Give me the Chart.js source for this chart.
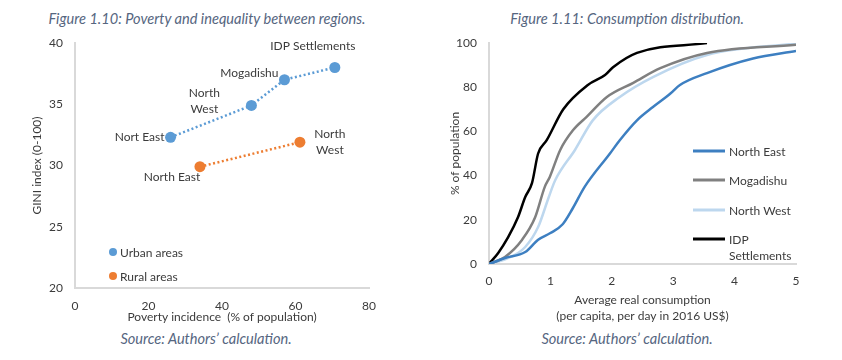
<!DOCTYPE html>
<html>
<head>
<meta charset="utf-8">
<script src="https://cdn.jsdelivr.net/npm/chart.js@4.4.1/dist/chart.umd.min.js"></script>
<style>
  body { margin: 0; background: #fff; font-family: Lato, "Open Sans", sans-serif; }
  #wrap { position: relative; width: 842px; height: 360px; }
  .box { position: absolute; top: 0; width: 421px; height: 360px; }
  .cap { position: absolute; font-style: italic; color: #56667f; font-size: 14.6px;
         white-space: nowrap; transform: translate(-50%, -50%); }
</style>
</head>
<body>
<div id="wrap">
  <div class="cap" style="left:207px; top:18px">Figure 1.10: Poverty and inequality between regions.</div>
  <div class="cap" style="left:627px; top:18px">Figure 1.11: Consumption distribution.</div>
  <div class="cap" style="left:206px; top:338px">Source: Authors’ calculation.</div>
  <div class="cap" style="left:627px; top:338px">Source: Authors’ calculation.</div>
  <div class="box" style="left:0"><canvas id="gini"></canvas></div>
  <div class="box" style="left:421px"><canvas id="cons"></canvas></div>
</div>
<script>
// Figure 1.10 data
const urbanRegions = ["Nort East", "North West", "Mogadishu", "IDP Settlements"];
const urbanPoverty = [26, 48, 57, 70.7];
const urbanGini = [32.3, 34.9, 37.0, 38.0];
const ruralRegions = ["North East", "North West"];
const ruralPoverty = [34, 61.2];
const ruralGini = [29.9, 31.9];

// Figure 1.11 data (cumulative share of population by consumption)
const neCons = [0, 0.26, 0.59, 0.8, 1.0, 1.2, 1.36, 1.56, 1.97, 2.13, 2.41, 2.67, 2.95, 3.11, 3.55, 4.3, 5.0];
const nePct = [0, 2.7, 5.4, 11, 14, 18, 25, 35, 50, 56, 65, 71, 77, 81, 86.4, 93, 96.4];
const mogCons = [0, 0.26, 0.54, 0.75, 0.91, 0.99, 1.16, 1.37, 1.59, 1.92, 2.35, 2.79, 3.55, 5.0];
const mogPct = [0, 3.2, 11, 21, 35, 39.4, 51.6, 60.6, 66.6, 75.6, 82, 88.6, 95.5, 99.2];
const nwCons = [0, 0.3, 0.59, 0.8, 0.97, 1.08, 1.4, 1.69, 2.13, 2.67, 3.55, 5.0];
const nwPct = [0, 2.5, 7.7, 16.7, 30, 38, 51.6, 65, 75.6, 84.6, 94.6, 99.8];
const idpCons = [0, 0.15, 0.31, 0.47, 0.59, 0.7, 0.8, 0.94, 1.21, 1.61, 1.89, 2.02, 2.41, 3.55];
const idpPct = [0, 5, 12, 21, 30.3, 36.6, 50, 56, 70, 81, 85.5, 89, 95.5, 100];

const TEXT = "#3b3b3b";
const AXIS = "#d9d9d9";
Chart.defaults.font.family = 'Lato, "Open Sans", sans-serif';
Chart.defaults.font.size = 12;
Chart.defaults.color = TEXT;

const toXY = (xs, ys) => xs.map((x, i) => ({ x, y: ys[i] }));

// label placement for each point in figure 1.10
const urbanLabelPos = [
  { dx: -6, dy: 0, align: "right", wrap: false },
  { dx: -47, dy: -12, align: "center", wrap: true },
  { dx: -6, dy: -7, align: "right", wrap: false },
  { dx: -22, dy: -21, align: "center", wrap: false },
];
const ruralLabelPos = [
  { dx: -28, dy: 10, align: "center", wrap: false },
  { dx: 30, dy: -8, align: "center", wrap: true },
];

const pointLabels = {
  id: "pointLabels",
  afterDatasetsDraw(chart) {
    const ctx = chart.ctx;
    ctx.save();
    ctx.font = "12px " + Chart.defaults.font.family;
    ctx.fillStyle = TEXT;
    ctx.textBaseline = "middle";
    chart.data.datasets.forEach((ds, di) => {
      chart.getDatasetMeta(di).data.forEach((pt, i) => {
        const pos = ds.labelPos[i];
        const lines = pos.wrap ? ds.names[i].split(" ") : [ds.names[i]];
        ctx.textAlign = pos.align;
        lines.forEach((line, k) => ctx.fillText(line, pt.x + pos.dx, pt.y + pos.dy + k * 16));
      });
    });
    ctx.restore();
  },
};

const dotLegend = {
  id: "dotLegend",
  afterDraw(chart) {
    const { ctx, chartArea } = chart;
    ctx.save();
    ctx.font = "12px " + Chart.defaults.font.family;
    ctx.textBaseline = "middle";
    ctx.textAlign = "left";
    chart.data.datasets.forEach((ds, i) => {
      const x = chartArea.left + 38;
      const y = chartArea.bottom - 36 + i * 24;
      ctx.fillStyle = ds.backgroundColor;
      ctx.beginPath();
      ctx.arc(x, y, 4, 0, Math.PI * 2);
      ctx.fill();
      ctx.fillStyle = TEXT;
      ctx.fillText(ds.label, x + 7, y + 1);
    });
    ctx.restore();
  },
};

const lineLegend = {
  id: "lineLegend",
  afterDraw(chart) {
    const { ctx, chartArea } = chart;
    const rows = [151, 180, 210, 239];
    ctx.save();
    ctx.font = "12px " + Chart.defaults.font.family;
    ctx.textBaseline = "middle";
    ctx.textAlign = "left";
    chart.data.datasets.forEach((ds, i) => {
      const x = chartArea.left + 204;
      const y = rows[i];
      ctx.strokeStyle = ds.borderColor;
      ctx.lineWidth = 3;
      ctx.beginPath();
      ctx.moveTo(x, y);
      ctx.lineTo(x + 32, y);
      ctx.stroke();
      ctx.fillStyle = TEXT;
      const parts = ds.label.split("|");
      parts.forEach((p, k) => ctx.fillText(p, x + 36, y + 1 + k * 16));
    });
    ctx.restore();
  },
};

const axisBase = {
  grid: { display: false, drawTicks: false },
  border: { display: true, color: AXIS, width: 2 },
};

new Chart(document.getElementById("gini"), {
  type: "scatter",
  data: {
    datasets: [
      {
        label: "Urban areas",
        data: toXY(urbanPoverty, urbanGini),
        names: urbanRegions,
        labelPos: urbanLabelPos,
        backgroundColor: "#5b9bd5",
        borderColor: "#5b9bd5",
        pointRadius: 5.5,
        pointBorderWidth: 0,
        showLine: true,
        borderWidth: 2.5,
        borderDash: [2, 2.5],
      },
      {
        label: "Rural areas",
        data: toXY(ruralPoverty, ruralGini),
        names: ruralRegions,
        labelPos: ruralLabelPos,
        backgroundColor: "#ed7d31",
        borderColor: "#ed7d31",
        pointRadius: 5.5,
        pointBorderWidth: 0,
        showLine: true,
        borderWidth: 2.5,
        borderDash: [2, 2.5],
      },
    ],
  },
  options: {
    responsive: true,
    maintainAspectRatio: false,
    animation: false,
    layout: { padding: { top: 43, right: 52, bottom: 36, left: 30 } },
    plugins: { legend: { display: false }, tooltip: { enabled: false } },
    scales: {
      x: {
        ...axisBase,
        min: 0, max: 80,
        ticks: { stepSize: 20, padding: 11 },
        title: { display: true, text: "Poverty incidence  (% of population)", padding: { top: 4, bottom: 0 } },
        afterFit(s) { s.height = 36; },
      },
      y: {
        ...axisBase,
        min: 20, max: 40,
        ticks: { stepSize: 5, padding: 12 },
        title: { display: true, text: "GINI index (0-100)", padding: { top: 0, bottom: 0 } },
        afterFit(s) { s.width = 45; },
      },
    },
  },
  plugins: [pointLabels, dotLegend],
});

const curve = (label, xs, ys, color) => ({
  label,
  data: toXY(xs, ys),
  borderColor: color,
  backgroundColor: color,
  borderWidth: 2.5,
  pointRadius: 0,
  cubicInterpolationMode: "monotone",
});

new Chart(document.getElementById("cons"), {
  type: "line",
  data: {
    datasets: [
      curve("North East", neCons, nePct, "#3d7fc1"),
      curve("Mogadishu", mogCons, mogPct, "#808080"),
      curve("North West", nwCons, nwPct, "#bdd7ee"),
      curve("IDP|Settlements", idpCons, idpPct, "#000000"),
    ],
  },
  options: {
    responsive: true,
    maintainAspectRatio: false,
    animation: false,
    layout: { padding: { top: 43, right: 46, bottom: 35, left: 27 } },
    plugins: { legend: { display: false }, tooltip: { enabled: false } },
    scales: {
      x: {
        ...axisBase,
        type: "linear",
        min: 0, max: 5,
        ticks: { stepSize: 1, padding: 10 },
        title: {
          display: true,
          text: ["Average real consumption", "(per capita, per day in 2016 US$)"],
          font: { lineHeight: 1.4 },
          padding: { top: 4, bottom: 0 },
        },
        afterFit(s) { s.height = 61; },
      },
      y: {
        ...axisBase,
        min: 0, max: 100,
        ticks: { stepSize: 20, padding: 12 },
        title: { display: true, text: "% of population", padding: { top: 0, bottom: 0 } },
        afterFit(s) { s.width = 41; },
      },
    },
  },
  plugins: [lineLegend],
});
</script>
</body>
</html>
